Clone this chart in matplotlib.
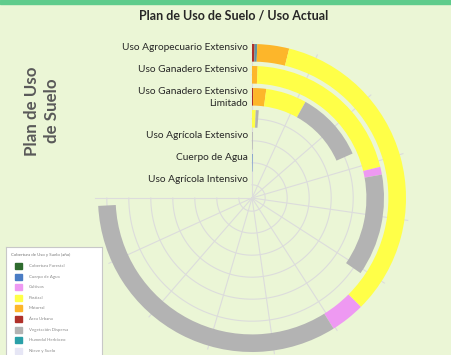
import numpy as np
import matplotlib.pyplot as plt
from matplotlib.patches import Rectangle

plt.rcParams['font.family'] = ['Lato', 'DejaVu Sans']

# rings from inner to outer
rings = ["Uso Agrícola Intensivo", "Cuerpo de Agua", "Uso Agrícola Extensivo", "",
         "Uso Ganadero Extensivo\nLimitado", "Uso Ganadero Extensivo", "Uso Agropecuario Extensivo"]

# values per land-cover class (axis units, 11 units = 270 deg)
urbano     = [0, 0,    0,    0,    0.025, 0,    0.04]
humedal    = [0, 0,    0,    0,    0,     0,    0.04]
agua       = [0, 0.03, 0,    0,    0,     0,    0]
matorral   = [0, 0,    0,    0,    0.28,  0.10, 0.49]
pastos     = [0, 0,    0,    0.10, 0.88,  3.01, 4.93]
cultivos   = [0, 0,    0,    0,    0,     0.14, 0.53]
vegetacion = [0, 0,    0.03, 0.08, 1.51,  1.83, 4.85]

series = [(urbano, '#B0302A'), (humedal, '#5F93A3'), (agua, '#4A7CC4'),
          (matorral, '#FDB62A'), (pastos, '#FFFF48'), (cultivos, '#EE99F2'),
          (vegetacion, '#B3B3B3')]

legend_labels = ["Cobertura Forestal", "Cuerpo de Agua", "Cultivos", "Pastizal", "Matorral",
                 "Área Urbana", "Vegetación Dispersa", "Humedal Herbáceo", "Nieve y Suelo"]
legend_colors = ['#2E6B2E', '#4A7CC4', '#EE99F2', '#FFFF48', '#FDB62A',
                 '#B0302A', '#B3B3B3', '#2AA0A8', '#E6E6F5']

axis_max = 11
span = 1.5 * np.pi
scale = span / axis_max

bg = '#EBF6D6'
W, H = 451, 355
fig = plt.figure(figsize=(W / 100, H / 100), dpi=100, facecolor=bg)

# top green strip
fig.patches.append(Rectangle((0, 1 - 4 / H), 1, 4 / H, transform=fig.transFigure,
                             color='#5FCC8C', zorder=0))

px_per_unit = 22
rmax = 7.3
cx, cy = 252, 198
Rpx = rmax * px_per_unit
ax = fig.add_axes([(cx - Rpx) / W, (H - cy - Rpx) / H, 2 * Rpx / W, 2 * Rpx / H],
                  projection='polar')
ax.set_theta_zero_location('N')
ax.set_theta_direction(-1)
ax.set_ylim(0, rmax)
ax.axis('off')

pos = np.arange(len(rings)) + 0.6

# grid
for k in range(axis_max + 1):
    t = k * scale
    ax.plot([t, t], [0, 7.15], color='#DCDCDC', lw=0.8, zorder=0)
th = np.linspace(0, span, 300)
for r in pos:
    ax.plot(th, np.full_like(th, r), color='#DCDCDC', lw=0.8, zorder=0)

# stacked radial bars
start = np.zeros(len(rings))
for vals, col in series:
    v = np.array(vals, dtype=float)
    ax.bar(start * scale, 0.8, width=v * scale, bottom=pos - 0.4, align='edge',
           color=col, linewidth=0, zorder=2)
    start += v

# category labels
for p, lab in zip(pos, rings):
    if lab:
        ax.annotate(lab, xy=(0, p), xytext=(-4, 10), textcoords='offset pixels',
                    ha='right', va='top', fontsize=7.3, color='#262626',
                    linespacing=1.45)

fig.text(234 / W, 1 - 15.5 / H, "Plan de Uso de Suelo / Uso Actual", ha='center',
         va='center', fontsize=9, fontweight='bold', color='#262626')
fig.text(42 / W, 1 - 111 / H, "Plan de Uso\nde Suelo", rotation=90, ha='center',
         va='center', fontsize=12.2, fontweight='bold', color='#595959',
         linespacing=1.25, multialignment='center')

# legend panel
lx, ly, lw_, lh = 6, 247, 96, H - 247
lax = fig.add_axes([lx / W, 0, lw_ / W, lh / H])
lax.set_xlim(0, lw_)
lax.set_ylim(lh, 0)
lax.set_facecolor('white')
for s in lax.spines.values():
    s.set_color('#C8C8C8')
    s.set_linewidth(0.8)
lax.spines['bottom'].set_visible(False)
lax.set_xticks([])
lax.set_yticks([])
lax.text(5, 8, "Cobertura de Uso y Suelo (año)", fontsize=3.2, color='#777777',
         va='center')
for i, (lab, col) in enumerate(zip(legend_labels, legend_colors)):
    y = 19 + 10.6 * i
    lax.add_patch(Rectangle((9, y - 3), 7, 6, color=col))
    lax.text(23, y, lab, fontsize=3.2, color='#8A8A8A', va='center')

fig.savefig('out.png', dpi=100, facecolor=bg)
